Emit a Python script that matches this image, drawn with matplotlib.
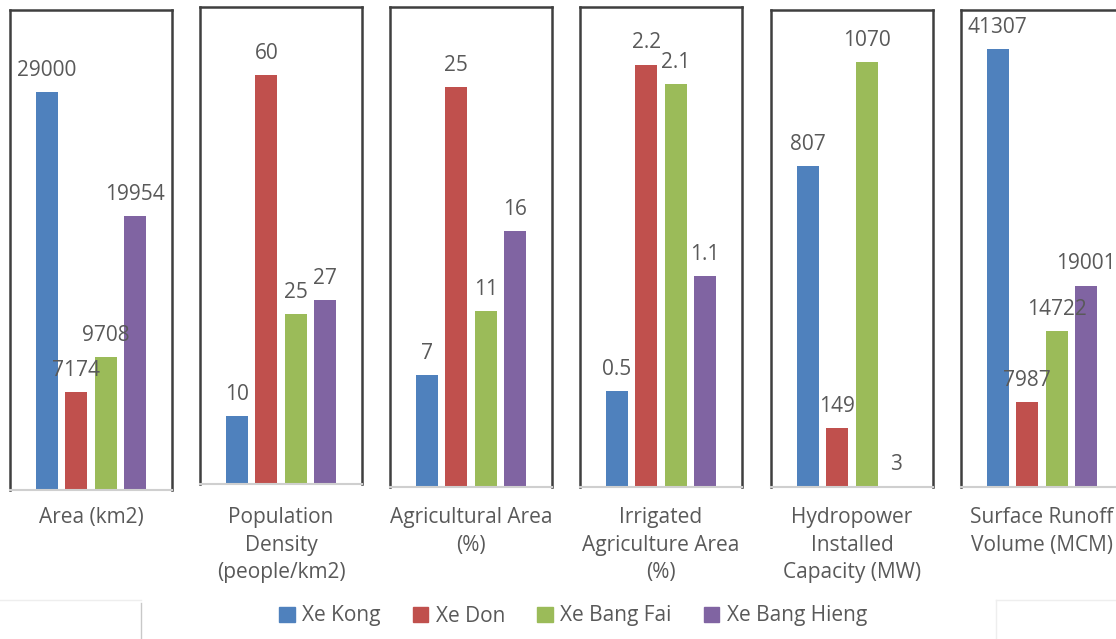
import matplotlib
matplotlib.use('Agg')
import matplotlib.pyplot as plt
from matplotlib.patches import Patch
from matplotlib.lines import Line2D

plt.rcParams['font.family'] = ['Open Sans', 'DejaVu Sans']

# data
categories = [
    'Area (km2)',
    'Population\nDensity\n(people/km2)',
    'Agricultural Area\n(%)',
    'Irrigated\nAgriculture Area\n(%)',
    'Hydropower\nInstalled\nCapacity (MW)',
    'Surface Runoff\nVolume (MCM)',
]
series = ['Xe Kong', 'Xe Don', 'Xe Bang Fai', 'Xe Bang Hieng']
xe_kong = [29000, 10, 7, 0.5, 807, 41307]
xe_don = [7174, 60, 25, 2.2, 149, 7987]
xe_bang_fai = [9708, 25, 11, 2.1, 1070, 14722]
xe_bang_hieng = [19954, 27, 16, 1.1, 3, 19001]
y_max = [35000, 70, 30, 2.5, 1200, 45000]

colors = ['#4F81BD', '#C0504D', '#9BBB59', '#8064A2']
TEXT = '#595959'
W, H = 1116, 639

# panel boxes in pixels: left, top, bottom
boxes = [(10, 10, 490), (200, 7, 484), (390, 7, 487),
         (580, 7, 487), (771, 10, 487), (961, 10, 487)]
BOX_W = 162

fig = plt.figure(figsize=(W / 100, H / 100), dpi=100)

values = list(zip(xe_kong, xe_don, xe_bang_fai, xe_bang_hieng))
offsets = [-1.5, -0.5, 0.5, 1.5]

for i, (left, top, bottom) in enumerate(boxes):
    ax = fig.add_axes([left / W, 1 - bottom / H, BOX_W / W, (bottom - top) / H])
    for j, v in enumerate(values[i]):
        ax.bar(offsets[j], v, width=0.76, color=colors[j])
        ax.annotate('{:g}'.format(v), (offsets[j], v), xytext=(0, 8),
                    textcoords='offset points', ha='center', va='bottom',
                    color=TEXT, fontsize=15)
    ax.set_xlim(-2.75, 2.75)
    ax.set_ylim(0, y_max[i])
    ax.set_xticks([])
    ax.set_yticks([])
    for s in ['left', 'top', 'right']:
        ax.spines[s].set_color('#3f3f3f')
        ax.spines[s].set_linewidth(1.8)
    ax.spines['bottom'].set_color('#cfcfcf')
    ax.spines['bottom'].set_linewidth(1.5)
    fig.text((left + BOX_W / 2) / W, 1 - 507 / H, categories[i],
             ha='center', va='top', color=TEXT, fontsize=15,
             linespacing=1.42)

handles = [Patch(color=c, label=s) for c, s in zip(colors, series)]
fig.legend(handles=handles, loc='center', bbox_to_anchor=(573 / W, 1 - 616 / H),
           ncol=4, frameon=False, fontsize=15, labelcolor=TEXT,
           handlelength=0.75, handleheight=0.75, handletextpad=0.35,
           columnspacing=1.55)

# faint remains of an outer frame at the bottom
for xs, ys, c in [((0, 141), (600, 600), '#eeeeee'),
                  ((141, 141), (603, 639), '#c8c8c8'),
                  ((996, 1116), (600, 600), '#eeeeee'),
                  ((996, 996), (600, 639), '#eeeeee')]:
    fig.add_artist(Line2D([x / W for x in xs], [1 - y / H for y in ys],
                          color=c, linewidth=1, transform=fig.transFigure))

fig.savefig('out.png', dpi=100, facecolor='white')
